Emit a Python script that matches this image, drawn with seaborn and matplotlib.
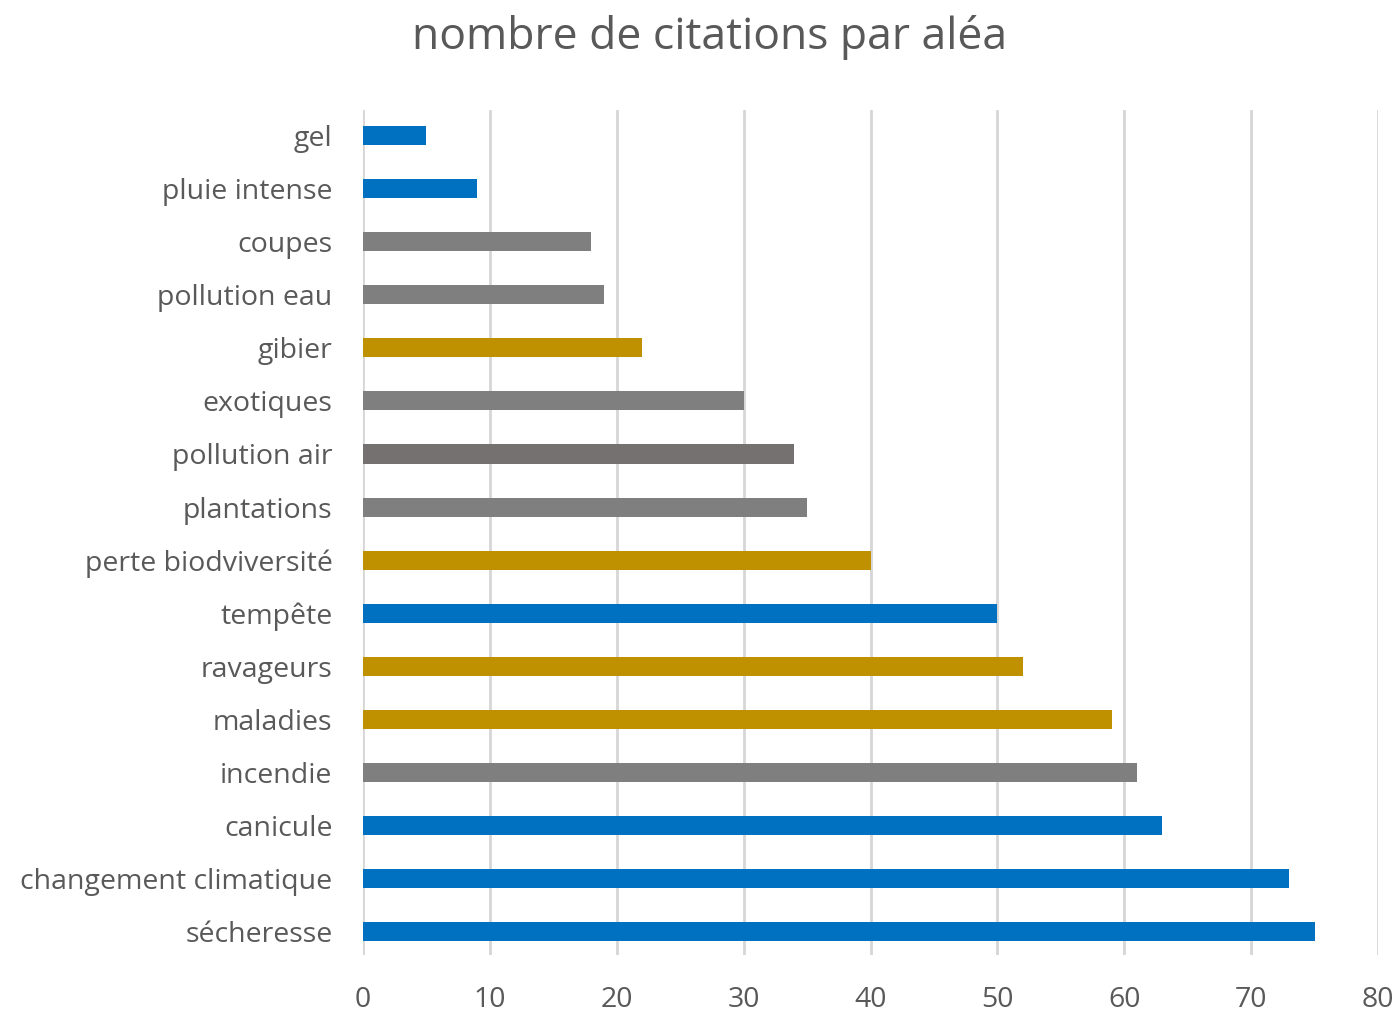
import seaborn as sns
import matplotlib.pyplot as plt

# données
labels = ["gel", "pluie intense", "coupes", "pollution eau", "gibier", "exotiques",
          "pollution air", "plantations", "perte biodviversité", "tempête", "ravageurs",
          "maladies", "incendie", "canicule", "changement climatique", "sécheresse"]
values = [5, 9, 18, 19, 22, 30, 34, 35, 40, 50, 52, 59, 61, 63, 73, 75]
groups = ["climat", "climat", "humain", "humain", "bio", "humain",
          "humain2", "humain", "bio", "climat", "bio",
          "bio", "humain", "climat", "climat", "climat"]

group_colors = {"climat": "#0070C0", "bio": "#BF9000",
                "humain": "#7F7F7F", "humain2": "#767171"}
palette = [group_colors[g] for g in groups]

sns.set_style("white")
plt.rcParams['font.family'] = ['Open Sans', 'DejaVu Sans']

fig = plt.figure(figsize=(14, 10.13), dpi=100)
ax = fig.add_axes([0.2593, 0.0573, 0.725, 0.834])

sns.barplot(x=values, y=labels, hue=labels, palette=palette, legend=False,
            orient="h", width=0.36, saturation=1, ax=ax, edgecolor="none")

ax.set_xlim(0, 80)
ax.set_ylim(15.44, -0.48)
ax.set_xticks(range(0, 81, 10))
ax.grid(axis="x", color="#D6D6D6", linewidth=2, linestyle="-")
ax.set_axisbelow(True)
for spine in ax.spines.values():
    spine.set_visible(False)

ax.tick_params(axis="y", length=0, pad=22, labelsize=20.5, labelcolor="#595959")
ax.tick_params(axis="x", length=0, pad=22, labelsize=20.5, labelcolor="#595959")
ax.set_xlabel("")
ax.set_ylabel("")

fig.suptitle("nombre de citations par aléa", x=0.507, y=0.963, va="center",
             fontsize=32, color="#595959")

fig.savefig("out.png", dpi=100)
